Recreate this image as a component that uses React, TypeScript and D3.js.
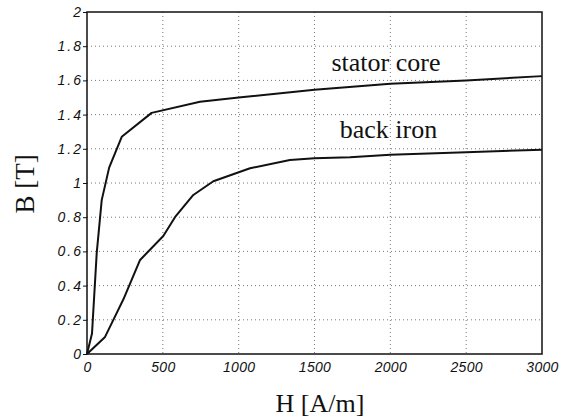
import { useEffect, useRef } from 'react';
import * as d3 from 'd3';

// H [A/m] vs B [T]
const statorH = [0, 33, 64, 97, 146, 229, 426, 745, 1000, 1500, 2000, 2500, 3000];
const statorB = [0, 0.12, 0.59, 0.9, 1.09, 1.27, 1.41, 1.475, 1.5, 1.545, 1.58, 1.6, 1.625];
const backH = [0, 119, 185, 240, 350, 503, 580, 701, 833, 1075, 1338, 1500, 1734, 2000, 2500, 3000];
const backB = [0, 0.1, 0.22, 0.32, 0.55, 0.69, 0.8, 0.93, 1.01, 1.086, 1.135, 1.145, 1.15, 1.165, 1.18, 1.195];

const xTicks = [0, 500, 1000, 1500, 2000, 2500, 3000];
const yTicks = [0, 0.2, 0.4, 0.6, 0.8, 1, 1.2, 1.4, 1.6, 1.8, 2];

const curveLabels = [
  { text: 'stator core', h: 1971, b: 1.655 },
  { text: 'back iron', h: 1988, b: 1.263 },
];

const serif = '"Liberation Serif", "Times New Roman", serif';

export default function App() {
  const ref = useRef<SVGSVGElement>(null);

  useEffect(() => {
    const svg = d3.select(ref.current);
    svg.selectAll('*').remove();

    const width = 571,
      height = 420;
    const margin = { top: 12, right: 29, bottom: 66, left: 87 };
    const w = width - margin.left - margin.right;
    const h = height - margin.top - margin.bottom;

    const x = d3.scaleLinear().domain([0, 3000]).range([0, w]);
    const y = d3.scaleLinear().domain([0, 2]).range([h, 0]);

    const g = svg.append('g').attr('transform', `translate(${margin.left},${margin.top})`);

    // dotted grid
    g.append('g')
      .selectAll('line')
      .data(xTicks.slice(1, -1))
      .join('line')
      .attr('x1', (d) => x(d))
      .attr('x2', (d) => x(d))
      .attr('y1', 0)
      .attr('y2', h)
      .attr('stroke', '#555')
      .attr('stroke-width', 0.8)
      .attr('stroke-dasharray', '1,3');
    g.append('g')
      .selectAll('line')
      .data(yTicks.slice(1, -1))
      .join('line')
      .attr('x1', 0)
      .attr('x2', w)
      .attr('y1', (d) => y(d))
      .attr('y2', (d) => y(d))
      .attr('stroke', '#555')
      .attr('stroke-width', 0.8)
      .attr('stroke-dasharray', '1,3');

    // axes
    const xAxis = g
      .append('g')
      .attr('transform', `translate(0,${h})`)
      .call(d3.axisBottom(x).tickValues(xTicks).tickSize(0).tickFormat((d) => String(d)));
    const yAxis = g
      .append('g')
      .call(d3.axisLeft(y).tickValues(yTicks).tickSize(4).tickFormat((d) => String(+d)));
    [xAxis, yAxis].forEach((a) => {
      a.select('.domain').remove();
      a.selectAll('line').attr('stroke', '#111');
      a.selectAll('text')
        .attr('fill', '#111')
        .style('font-family', '"Liberation Sans", Arial, sans-serif')
        .style('font-style', 'italic')
        .style('font-size', '14px');
    });
    xAxis.selectAll('text').attr('y', 0).attr('dy', 18).style('letter-spacing', '0.3px');
    yAxis.selectAll('text').attr('x', -4).style('letter-spacing', '2px');

    // frame
    g.append('rect')
      .attr('width', w)
      .attr('height', h)
      .attr('fill', 'none')
      .attr('stroke', '#111')
      .attr('stroke-width', 1.5);

    const series = [
      { hs: statorH, bs: statorB },
      { hs: backH, bs: backB },
    ];
    series.forEach((s) => {
      const path = d3
        .line<number>()
        .x((d) => x(d))
        .y((_, i) => y(s.bs[i]));
      g.append('path')
        .attr('d', path(s.hs))
        .attr('fill', 'none')
        .attr('stroke', '#111')
        .attr('stroke-width', 2)
        .attr('stroke-linejoin', 'round');
    });

    g.selectAll('text.lbl')
      .data(curveLabels)
      .join('text')
      .attr('class', 'lbl')
      .attr('x', (d) => x(d.h))
      .attr('y', (d) => y(d.b))
      .attr('text-anchor', 'middle')
      .attr('fill', '#111')
      .style('font-family', serif)
      .style('font-size', '26px')
      .text((d) => d.text);

    svg
      .append('text')
      .attr('x', 320)
      .attr('y', 412)
      .attr('text-anchor', 'middle')
      .attr('fill', '#111')
      .style('font-family', serif)
      .style('font-size', '26px')
      .text('H [A/m]');

    svg
      .append('text')
      .attr('transform', `translate(34,184) rotate(-90)`)
      .attr('text-anchor', 'middle')
      .attr('fill', '#111')
      .style('font-family', serif)
      .style('font-size', '27px')
      .text('B [T]');
  }, []);

  return (
    <svg
      ref={ref}
      width={571}
      height={420}
      style={{ position: 'absolute', left: 0, top: 0, background: '#fff' }}
    />
  );
}
